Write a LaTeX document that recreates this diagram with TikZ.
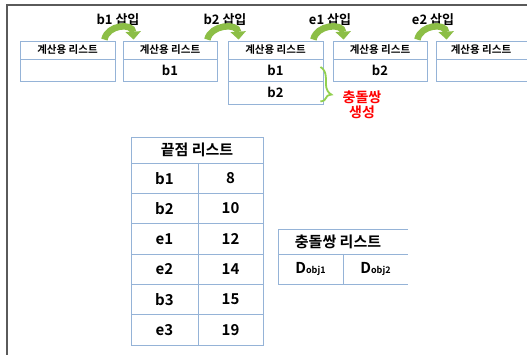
\documentclass[tikz,border=0pt]{standalone}
\usepackage{fontspec}
\setmainfont{Noto Sans CJK KR}[BoldFont={* Bold}]
\usetikzlibrary{arrows.meta,decorations.pathreplacing}
\definecolor{tblblue}{RGB}{149,179,215}
\definecolor{frame}{RGB}{90,90,90}
\definecolor{grn}{RGB}{140,190,70}
\definecolor{brgreen}{RGB}{146,208,80}
\tikzset{
  cell/.style={draw=tblblue, line width=0.8pt, inner sep=0pt, font=\bfseries\fontsize{10.5}{12}\selectfont},
  tcell/.style={draw=tblblue, line width=0.8pt, inner sep=0pt, font=\bfseries\fontsize{15}{17}\selectfont},
  lab/.style={font=\bfseries\fontsize{13}{15}\selectfont, inner sep=0pt},
  garrow/.style={grn, line width=6.5pt, -{Triangle[width=15pt,length=8pt]}},
}
\begin{document}
\begin{tikzpicture}[x=1pt,y=-1pt]
\useasboundingbox (0,0) rectangle (527,355);
\draw[frame, line width=1.4pt] (7,360) -- (7,5) -- (530,5);
% box 1
\node[cell, minimum width=95pt, minimum height=18pt] (b1h) at (67.5,50) {계산용 리스트};
\node[cell, minimum width=95pt, minimum height=22pt] (b1r1) at (67.5,70) {};
% box 2
\node[cell, minimum width=94pt, minimum height=18pt] (b2h) at (170,50) {계산용 리스트};
\node[cell, minimum width=94pt, minimum height=22pt, font=\bfseries\fontsize{13}{15}\selectfont] (b2r1) at (170,70) {b1};
% box 3
\node[cell, minimum width=95pt, minimum height=18pt] (b3h) at (275.5,50) {계산용 리스트};
\node[cell, minimum width=95pt, minimum height=22pt, font=\bfseries\fontsize{13}{15}\selectfont] (b3r1) at (275.5,70) {b1};
\node[cell, minimum width=95pt, minimum height=23pt, font=\bfseries\fontsize{13}{15}\selectfont] (b3r2) at (275.5,92.5) {b2};
% box 4
\node[cell, minimum width=94pt, minimum height=18pt] (b4h) at (380,50) {계산용 리스트};
\node[cell, minimum width=94pt, minimum height=22pt, font=\bfseries\fontsize{13}{15}\selectfont] (b4r1) at (380,70) {b2};
% box 5
\node[cell, minimum width=100pt, minimum height=18pt] (b5h) at (486,50) {\hspace*{-10pt}계산용 리스트};
\node[cell, minimum width=100pt, minimum height=22pt] (b5r1) at (486,70) {};
% labels
\node[lab] (l1) at (118,20) {b1 삽입};
\node[lab] (l2) at (225,20) {b2 삽입};
\node[lab] (l3) at (330,20) {e1 삽입};
\node[lab] (l4) at (433,20) {e2 삽입};
% arrows
\coordinate (a1s) at ([xshift=-11pt,yshift=1pt]b1h.north east);
\coordinate (a1e) at ([xshift=11pt,yshift=1pt]b2h.north west);
\coordinate (a2s) at ([xshift=-10pt,yshift=1pt]b2h.north east);
\coordinate (a2e) at ([xshift=11pt,yshift=1pt]b3h.north west);
\coordinate (a3s) at ([xshift=-10pt,yshift=1pt]b3h.north east);
\coordinate (a3e) at ([xshift=11pt,yshift=1pt]b4h.north west);
\coordinate (a4s) at ([xshift=-10pt,yshift=1pt]b4h.north east);
\coordinate (a4e) at ([xshift=11pt,yshift=1pt]b5h.north west);
\foreach \s/\e in {a1s/a1e,a2s/a2e,a3s/a3e,a4s/a4e}{
  \draw[garrow] (\s) .. controls ([shift={(3,-15)}]\s) and ([shift={(-1,-17)}]\e) .. (\e);
}
% brace
\draw[brgreen, line width=1.8pt, decorate, decoration={brace, amplitude=11pt, aspect=0.8}] ([xshift=-3pt,yshift=3pt]b3r1.east) -- ([xshift=-3pt,yshift=-9pt]b3r2.east) coordinate (brb);
\node[font=\bfseries\fontsize{14}{16}\selectfont, text=red, align=center, inner sep=0pt] (coll) at (362,105) {충돌쌍\\[-1pt]생성};
% endpoint table
\node[tcell, minimum width=132pt, minimum height=26pt] (th) at (197,150) {끝점 리스트};
\foreach \n/\v [count=\i from 0] in {b1/8,b2/10,e1/12,e2/14,b3/15,e3/19}{
  \node[tcell, minimum width=67pt, minimum height=30.33pt] (n\i) at (164.5,178.17+30.33*\i) {\n};
  \node[tcell, minimum width=65pt, minimum height=30.33pt] (v\i) at (230.5,178.17+30.33*\i) {\v};
}
% collision table
\node[inner sep=0pt, font=\bfseries\fontsize{15}{17}\selectfont] (ch) at (338,241.5) {충돌쌍 리스트};
\node[inner sep=0pt, font=\bfseries] (c1) at (310.5,269) {{\fontsize{15}{17}\selectfont D}{\fontsize{9}{10}\selectfont obj1}};
\node[inner sep=0pt, font=\bfseries] (c2) at (375.5,269) {{\fontsize{15}{17}\selectfont D}{\fontsize{9}{10}\selectfont obj2}};
\draw[tblblue, line width=0.8pt] (408,229) -- (278,229) -- (278,284) -- (408,284);
\draw[tblblue, line width=0.8pt] (278,254) -- (408,254);
\draw[tblblue, line width=0.8pt] (343,254) -- (343,284);
\end{tikzpicture}
\end{document}
